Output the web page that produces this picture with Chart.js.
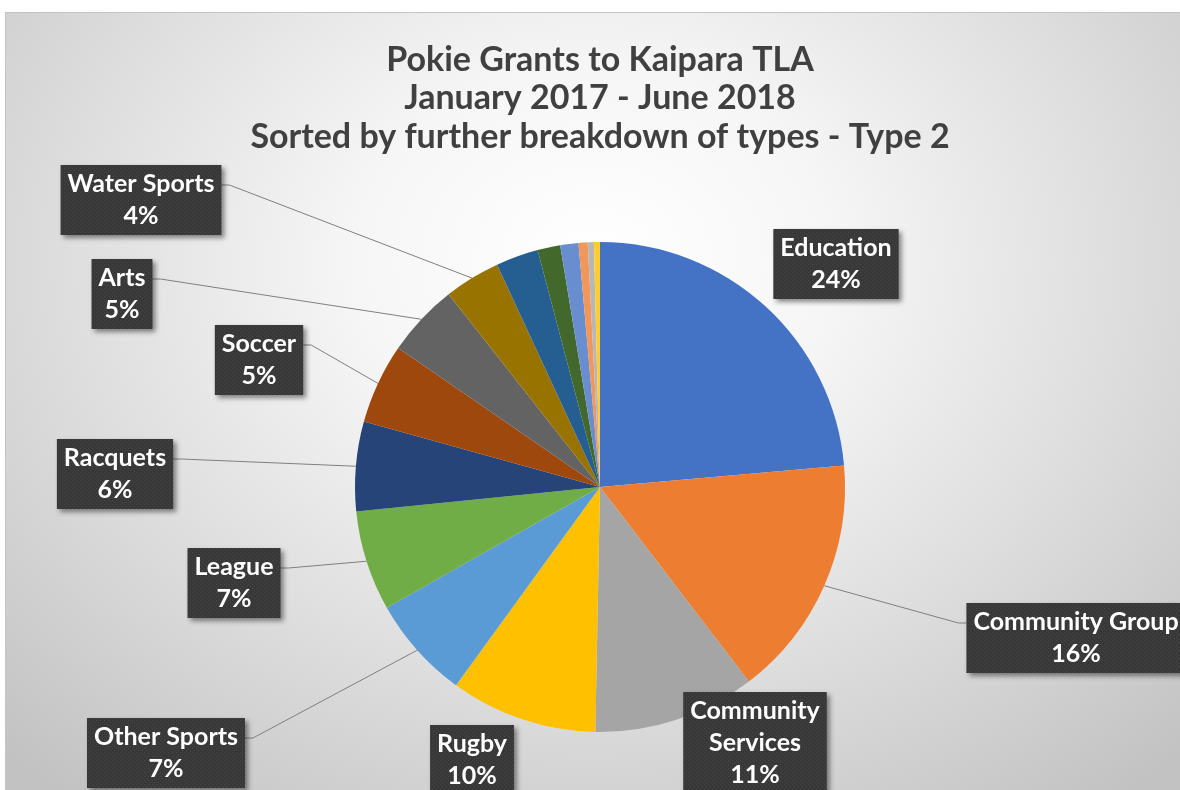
<!DOCTYPE html>
<html>
<head>
<meta charset="utf-8">
<title>Pokie Grants to Kaipara TLA</title>
<script src="https://cdn.jsdelivr.net/npm/chart.js@4.4.1/dist/chart.umd.min.js"></script>
<style>
  html, body { margin: 0; padding: 0; background: #fff; overflow: hidden; }
  #frame {
    position: absolute; left: 5px; top: 12px; width: 1175px; height: 778px;
    border-top: 1px solid #c4c4c4; border-left: 1px solid #c4c4c4;
    background: radial-gradient(ellipse 72% 88% at 50% 32%, #ffffff 0%, #f6f6f6 28%, #dedede 62%, #c2c2c2 100%);
  }
  #pie { position: absolute; left: 0; top: 0; }
</style>
</head>
<body>
<div id="frame"></div>
<canvas id="pie" width="1180" height="790"></canvas>
<script>
// Grant shares by type (percent of total), clockwise from 12 o'clock
const categories = [
  'Education', 'Community Group', 'Community Services', 'Rugby', 'Other Sports',
  'League', 'Racquets', 'Soccer', 'Arts', 'Water Sports',
  'Hockey', 'Cricket', 'Netball', 'Health', 'Environment', 'Heritage'
];
const shares = [23.6, 16.0, 10.7, 9.7, 6.8, 6.6, 5.9, 5.3, 4.8, 3.7, 2.8, 1.5, 1.2, 0.6, 0.4, 0.4];

const titleLines = [
  'Pokie Grants to Kaipara TLA',
  'January 2017 - June 2018',
  'Sorted by further breakdown of types - Type 2'
];

// Office palette, then the darker and lighter variants
const sliceColors = [
  '#4472C4', '#ED7D31', '#A5A5A5', '#FFC000', '#5B9BD5', '#70AD47',
  '#264478', '#9E480E', '#636363', '#997300', '#255E91', '#43682B',
  '#698ED0', '#F1975A', '#B7B7B7', '#FFCD33'
];

// Where each callout box sits (box centre) and whether it gets a leader line
const calloutAt = {
  'Education':          { x: 836,  y: 264 },
  'Community Group':    { x: 1076, y: 638, leader: true },
  'Community Services': { x: 755,  y: 743, wrap: true },
  'Rugby':              { x: 472,  y: 760 },
  'Other Sports':       { x: 166,  y: 753, leader: true },
  'League':             { x: 234,  y: 583, leader: true },
  'Racquets':           { x: 115,  y: 474, leader: true },
  'Soccer':             { x: 259,  y: 360, leader: true },
  'Arts':               { x: 122,  y: 294, leader: true },
  'Water Sports':       { x: 141,  y: 200, leader: true }
};

const LABEL_FONT = 'bold 25px Lato, "Open Sans", sans-serif';
const LINE_H = 32;

// speckled dark fill for the callout boxes
function boxPattern(ctx) {
  const p = document.createElement('canvas');
  p.width = 4; p.height = 4;
  const c = p.getContext('2d');
  c.fillStyle = '#383838';
  c.fillRect(0, 0, 4, 4);
  c.fillStyle = '#474747';
  c.fillRect(0, 0, 1, 1);
  c.fillRect(2, 2, 1, 1);
  return ctx.createPattern(p, 'repeat');
}

const calloutPlugin = {
  id: 'callouts',
  afterDatasetsDraw(chart) {
    const ctx = chart.ctx;
    const arcs = chart.getDatasetMeta(0).data;
    const total = shares.reduce((a, b) => a + b, 0);
    const fill = boxPattern(ctx);

    ctx.save();
    ctx.font = LABEL_FONT;
    arcs.forEach((arc, i) => {
      const spot = calloutAt[categories[i]];
      if (!spot) return;
      const name = categories[i];
      const lines = (spot.wrap ? name.split(' ') : [name]);
      lines.push(Math.round(shares[i] / total * 100) + '%');

      const w = Math.max(...lines.map(t => ctx.measureText(t).width)) + 14;
      const h = lines.length * LINE_H + 6;
      const left = spot.x - w / 2;
      const top = spot.y - h / 2;

      // leader line from the box to the middle of the slice's rim
      if (spot.leader) {
        const p = arc.getProps(['x', 'y', 'startAngle', 'endAngle', 'outerRadius'], true);
        const mid = (p.startAngle + p.endAngle) / 2;
        const ex = p.x + Math.cos(mid) * p.outerRadius;
        const ey = p.y + Math.sin(mid) * p.outerRadius;
        const sx = ex > spot.x ? left + w : left;
        const sy = top + 20;
        const stub = ex > spot.x ? 8 : -8;
        ctx.strokeStyle = '#7f7f7f';
        ctx.lineWidth = 1;
        ctx.beginPath();
        ctx.moveTo(sx, sy);
        ctx.lineTo(sx + stub, sy);
        ctx.lineTo(ex, ey);
        ctx.stroke();
      }

      ctx.save();
      ctx.shadowColor = 'rgba(0,0,0,0.45)';
      ctx.shadowBlur = 5;
      ctx.shadowOffsetX = 3;
      ctx.shadowOffsetY = 3;
      ctx.fillStyle = fill;
      ctx.fillRect(left, top, w, h);
      ctx.restore();

      ctx.fillStyle = '#ffffff';
      ctx.textAlign = 'center';
      ctx.textBaseline = 'middle';
      lines.forEach((t, k) => {
        ctx.fillText(t, spot.x, top + 19 + k * LINE_H);
      });
    });
    ctx.restore();
  },
  afterDraw(chart) {
    const ctx = chart.ctx;
    ctx.save();
    ctx.font = 'bold 34px Lato, "Open Sans", sans-serif';
    ctx.fillStyle = '#404040';
    ctx.textAlign = 'center';
    ctx.textBaseline = 'middle';
    titleLines.forEach((t, k) => ctx.fillText(t, 600, 60 + k * 38.5));
    ctx.restore();
  }
};

new Chart(document.getElementById('pie'), {
  type: 'pie',
  data: {
    labels: categories,
    datasets: [{
      data: shares,
      backgroundColor: sliceColors,
      borderWidth: 0
    }]
  },
  options: {
    responsive: false,
    animation: false,
    layout: { padding: { top: 242, bottom: 58, left: 355, right: 335 } },
    plugins: {
      legend: { display: false },
      tooltip: { enabled: false },
      title: { display: false }
    }
  },
  plugins: [calloutPlugin]
});
</script>
</body>
</html>
